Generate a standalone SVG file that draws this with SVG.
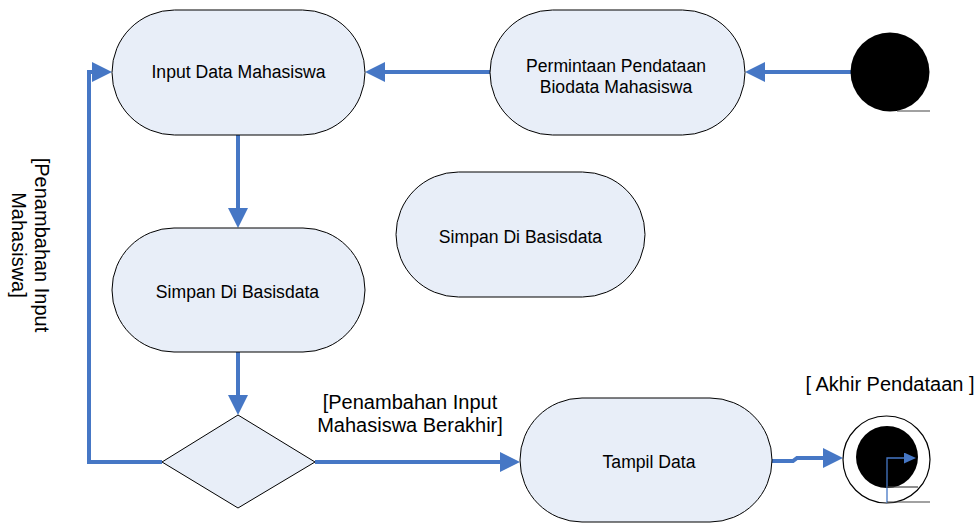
<svg xmlns="http://www.w3.org/2000/svg" width="978" height="523" viewBox="0 0 978 523">
<style>
.node{fill:#E8EEF8;stroke:#000;stroke-width:1}
.lbl{font-family:"Liberation Sans",Arial,sans-serif;font-size:17.6px;fill:#000;text-anchor:middle}
.glbl{font-family:"Liberation Sans",Arial,sans-serif;font-size:20px;fill:#000;text-anchor:middle}
.conn{fill:none;stroke:#4677C5;stroke-width:4}
.thin{fill:none;stroke:#4677C5;stroke-width:1.3}
.gray{fill:none;stroke:#444;stroke-width:1.2}
</style>
<defs>
<marker id="ah" markerWidth="20" markerHeight="20" refX="2" refY="10" orient="auto" markerUnits="userSpaceOnUse">
<path d="M0,0 L20,10 L0,20 Z" fill="#4677C5"/>
</marker>
<marker id="ahs" markerWidth="12" markerHeight="12" refX="1" refY="5.5" orient="auto" markerUnits="userSpaceOnUse">
<path d="M0,0 L12,5.5 L0,11 Z" fill="#4677C5"/>
</marker>
</defs>
<rect width="978" height="523" fill="#fff"/>

<g id="connectors">
<path class="conn" d="M852,72 L763,72" marker-end="url(#ah)"/>
<path class="conn" d="M490,72 L383,72" marker-end="url(#ah)"/>
<path class="conn" d="M238,135 L238,210" marker-end="url(#ah)"/>
<path class="conn" d="M238,352 L238,397" marker-end="url(#ah)"/>
<path class="conn" d="M315,462 L502,462" marker-end="url(#ah)"/>
<path class="conn" d="M162,462 L89,462 L89,72 L94,72" marker-end="url(#ah)"/>
<path class="conn" d="M772,461 L793,461 L797,458 L825,458" marker-end="url(#ah)"/>
</g>

<g id="start">
<circle cx="890" cy="72" r="39.5" fill="#000"/>
<line class="gray" x1="897" y1="111" x2="930" y2="111"/>
</g>

<g id="input-data">
<rect class="node" x="112" y="10" width="253" height="125" rx="62.5" ry="62.5"/>
<text class="lbl" x="238.5" y="78.3">Input Data Mahasiswa</text>
</g>

<g id="permintaan">
<rect class="node" x="490" y="10" width="255" height="125" rx="62.5" ry="62.5"/>
<text class="lbl" x="616" y="71.7">Permintaan Pendataan</text>
<text class="lbl" x="616" y="93.3">Biodata Mahasiswa</text>
</g>

<g id="simpan-tengah">
<rect class="node" x="396" y="172" width="249" height="125" rx="62.5" ry="62.5"/>
<text class="lbl" x="520.5" y="242.7">Simpan Di Basisdata</text>
</g>

<g id="simpan">
<rect class="node" x="112" y="228" width="253" height="124" rx="62" ry="62"/>
<text class="lbl" x="237.5" y="297.7">Simpan Di Basisdata</text>
</g>

<g id="decision">
<polygon class="node" points="162,462 238,415 315,462 238,508"/>
</g>

<g id="tampil">
<rect class="node" x="520" y="398" width="252" height="124" rx="62" ry="62"/>
<text class="lbl" x="649" y="468.3">Tampil Data</text>
</g>

<g id="end">
<circle cx="886.5" cy="459.5" r="43.5" fill="#fff" stroke="#000" stroke-width="1.2"/>
<circle cx="887" cy="457" r="31" fill="#000"/>
<path class="thin" d="M887,503 L887,458 L905,458" marker-end="url(#ahs)"/>
<line class="gray" x1="887" y1="487" x2="918" y2="487"/>
<line class="gray" x1="887" y1="502" x2="930" y2="502"/>
</g>

<g id="labels">
<text class="glbl" x="410" y="409">[Penambahan Input</text>
<text class="glbl" x="410" y="432">Mahasiswa Berakhir]</text>
<text class="glbl" x="890" y="391">[ Akhir Pendataan ]</text>
<g transform="translate(35,245) rotate(90)">
<text class="glbl" x="0" y="0">[Penambahan Input</text>
<text class="glbl" x="0" y="23">Mahasiswa]</text>
</g>
</g>
</svg>
